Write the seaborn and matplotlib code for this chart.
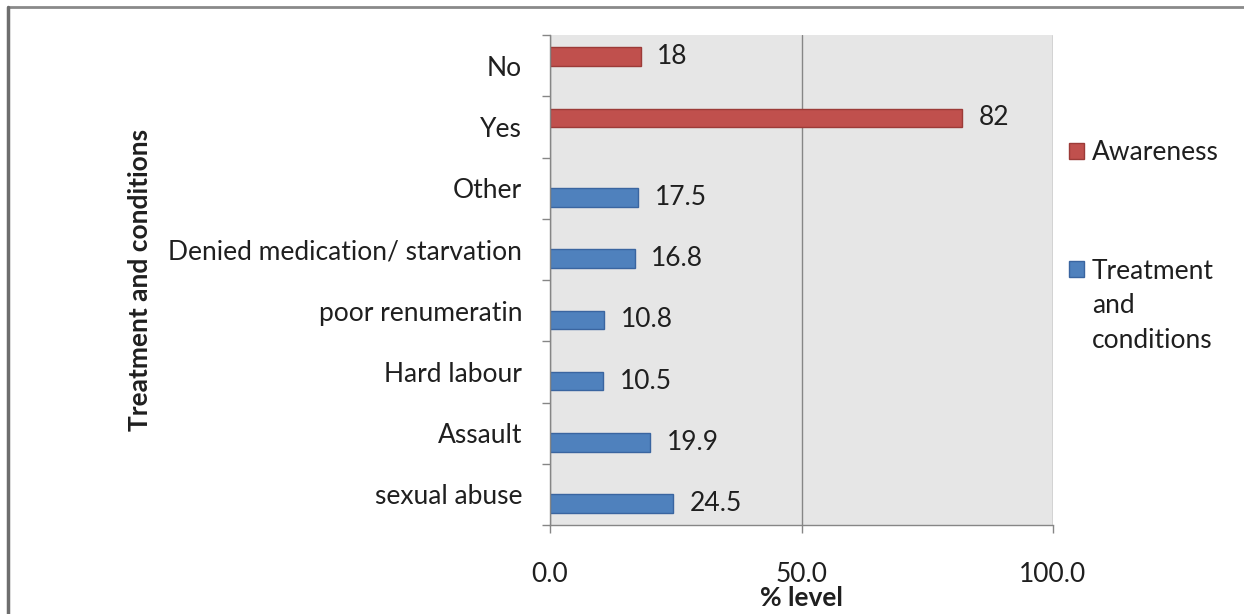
import matplotlib
matplotlib.use("Agg")
import matplotlib.pyplot as plt
import matplotlib.ticker as mticker
from matplotlib.lines import Line2D
from matplotlib.patches import Patch
import seaborn as sns
import pandas as pd

# Survey responses, listed top to bottom
awareness_cats = ["No", "Yes"]
awareness_vals = [18, 82]
treatment_cats = ["Other", "Denied medication/ starvation", "poor renumeratin",
                  "Hard labour", "Assault", "sexual abuse"]
treatment_vals = [17.5, 16.8, 10.8, 10.5, 19.9, 24.5]
series_names = ["Awareness", "Treatment and conditions"]
x_ticks = [0, 50, 100]

RED = "#C0504D"
BLUE = "#4F81BD"
RED_EDGE = "#9C3B38"
BLUE_EDGE = "#3A65A0"
GRID = "#868686"
TEXT = "#1F1F1F"

df = pd.DataFrame({
    "category": awareness_cats + treatment_cats,
    "value": awareness_vals + treatment_vals,
    "series": [series_names[0]] * len(awareness_cats)
              + [series_names[1]] * len(treatment_cats),
})
order = awareness_cats + treatment_cats

sns.set_theme(style="white")
plt.rcParams["font.family"] = ["Lato", "DejaVu Sans"]
FS = 19

fig = plt.figure(figsize=(12.44, 6.14), dpi=100)
ax = fig.add_axes([550 / 1244, 1 - 525 / 614, (1053 - 550) / 1244, (525 - 35) / 614])
ax.set_facecolor("#E6E6E6")

sns.barplot(data=df, x="value", y="category", hue="series", order=order,
            hue_order=series_names, palette=[RED, BLUE], width=0.6,
            dodge=True, orient="h", ax=ax, legend=False, saturation=1)

for cont, edge in zip(ax.containers, [RED_EDGE, BLUE_EDGE]):
    for bar in cont:
        bar.set_edgecolor(edge)
        bar.set_linewidth(1.0)
    ax.bar_label(cont, fmt="{:g}", padding=12, fontsize=FS, color=TEXT)

ax.set_xlim(0, 100)
ax.set_ylim(len(order) - 0.5, -0.5)
ax.set_xticks(x_ticks)
ax.xaxis.set_major_formatter(mticker.FormatStrFormatter("%.1f"))
ax.tick_params(axis="x", direction="out", length=6, width=1, color=GRID,
               pad=21, labelsize=FS, labelcolor=TEXT, bottom=True)

# category labels at band centres, tick marks at band boundaries
ax.set_yticks([i - 0.5 for i in range(len(order) + 1)])
ax.set_yticklabels([])
ax.set_yticks(range(len(order)), labels=order, minor=True)
ax.tick_params(axis="y", which="major", direction="out", length=6, width=1,
               color=GRID, left=True)
ax.tick_params(axis="y", which="minor", length=0, pad=20, labelsize=FS,
               labelcolor=TEXT)

ax.grid(axis="x", color=GRID, linewidth=1)
ax.grid(axis="y", visible=False)
ax.set_axisbelow(True)
for side in ["top", "right"]:
    ax.spines[side].set_visible(False)
for side in ["left", "bottom"]:
    ax.spines[side].set_color(GRID)
    ax.spines[side].set_linewidth(1)

ax.set_xlabel("% level", fontsize=FS, fontweight="bold", color=TEXT, labelpad=-1)
ax.set_ylabel("Treatment and conditions", fontsize=FS, fontweight="bold",
              color=TEXT)
ax.yaxis.set_label_coords((152 - 550) / (1053 - 550), 0.5)

handles = [Patch(facecolor=RED, edgecolor=RED_EDGE),
           Patch(facecolor=BLUE, edgecolor=BLUE_EDGE)]
leg = fig.legend(handles, ["Awareness", "Treatment"], loc="upper left",
                 bbox_to_anchor=(1069 / 1244, 1 - 140 / 614), frameon=False,
                 fontsize=FS, labelcolor=TEXT, handlelength=0.55,
                 handleheight=0.55, handletextpad=0.3, labelspacing=3.55,
                 borderaxespad=0, borderpad=0)
fig.text(1092 / 1244, 1 - 323 / 614, "and\nconditions", fontsize=FS,
         color=TEXT, va="center", ha="left", linespacing=1.5)

# chart frame
fig.add_artist(Line2D([8 / 1244, 1], [1 - 7 / 614, 1 - 7 / 614],
                      transform=fig.transFigure, color="#8A8A8A", lw=2))
fig.add_artist(Line2D([8 / 1244, 8 / 1244], [0, 1 - 7 / 614],
                      transform=fig.transFigure, color="#6E6E6E", lw=2.5))

fig.savefig("out.png", dpi=100)
